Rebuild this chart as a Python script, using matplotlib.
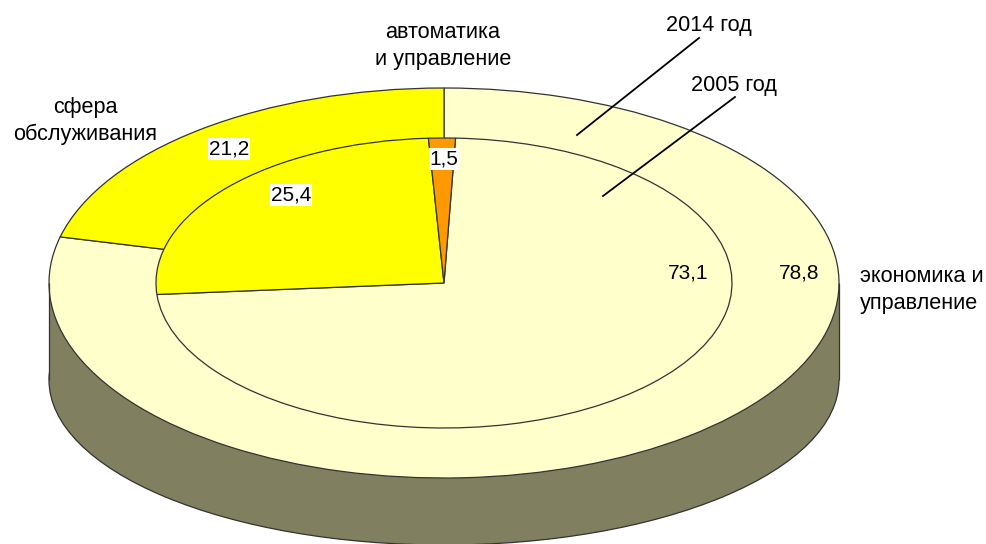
import matplotlib
matplotlib.use("Agg")
import matplotlib.pyplot as plt
from matplotlib.patches import Ellipse, Rectangle

plt.rcParams['font.family'] = ['Liberation Sans', 'DejaVu Sans']

# shares, %
fields = ["экономика и\nуправление", "сфера\nобслуживания", "автоматика\nи управление"]
values_2014 = [78.8, 21.2]
values_2005 = [73.1, 25.4, 1.5]
labels_2014 = ["78,8", "21,2"]
labels_2005 = ["73,1", "25,4", "1,5"]
year_labels = ["2014 год", "2005 год"]

W, H = 987, 544
CX, CY = 444, 283       # centre of the top face, px
RX, RY = 395, 195       # outer ellipse radii, px
IN_RX, IN_RY = 288, 145 # inner ellipse radii, px
BOTTOM_CY, BOTTOM_RY = 380, 165   # lower rim of the side

EDGE = "#333333"
wedge_style = {"edgecolor": EDGE, "linewidth": 0.9}


def squashed_axes(rx, ry):
    # one data unit is rx px across and ry px up, so a unit pie becomes an ellipse
    a = fig.add_axes([0, 0, 1, 1], facecolor="none")
    a.set_aspect("auto")
    return a, (-CX / rx, (W - CX) / rx), (-(H - CY) / ry, CY / ry)


def finish(a, xlim, ylim):
    a.set_aspect("auto")
    a.set_xlim(xlim)
    a.set_ylim(ylim)
    a.axis("off")


fig = plt.figure(figsize=(W / 100, H / 100), dpi=100)

ax, xlim, ylim = squashed_axes(RX, RY)

# side of the disc
side_y = -(BOTTOM_CY - CY) / RY
ax.add_patch(Ellipse((0, side_y), 2, 2 * BOTTOM_RY / RY, facecolor="#808060",
                     edgecolor=EDGE, linewidth=0.9))
ax.add_patch(Rectangle((-1, side_y), 2, -side_y, facecolor="#808060", edgecolor="none"))
ax.vlines([-1, 1], side_y, 0, color=EDGE, linewidth=0.9)

ax.pie(values_2014, colors=["#FFFFCC", "#FFFF00"], radius=1.0, startangle=90,
       counterclock=False, normalize=True, wedgeprops=wedge_style)
finish(ax, xlim, ylim)

inner, xlim, ylim = squashed_axes(IN_RX, IN_RY)
inner.pie(values_2005, colors=["#FFFFCC", "#FFFF00", "#FF9900"], radius=1.0,
          startangle=87.7, counterclock=False, normalize=True, wedgeprops=wedge_style)
finish(inner, xlim, ylim)

# overlay in pixels for labels and leader lines
top = fig.add_axes([0, 0, 1, 1], facecolor="none")
top.set_xlim(0, W)
top.set_ylim(H, 0)
top.axis("off")

FS_NUM = 15.0
FS_TXT = 15.6
num_style = {"fontsize": FS_NUM, "ha": "center", "va": "center", "color": "black"}
txt_style = {"fontsize": FS_TXT, "ha": "center", "va": "center", "color": "black",
             "linespacing": 1.32}
white_box = {"facecolor": "white", "edgecolor": "none", "pad": 0.8}

top.text(688, 273, labels_2005[0], **num_style)
top.text(799, 273, labels_2014[0], **num_style)
top.text(229, 149, labels_2014[1], bbox=white_box, **num_style)
top.text(291, 195, labels_2005[1], bbox=white_box, **num_style)
top.text(444, 159, labels_2005[2], bbox=white_box, **num_style)

top.text(443, 46, fields[2], **txt_style)
top.text(85, 121, fields[1], **txt_style)
top.text(860, 290, fields[0], fontsize=FS_TXT, linespacing=1.32, ha="left", va="center")

top.text(709, 25, year_labels[0], **txt_style)
top.text(734, 86, year_labels[1], **txt_style)
top.plot([577, 699], [135, 38], color="black", linewidth=1.3)
top.plot([603, 735], [196, 97], color="black", linewidth=1.3)

fig.savefig("out.png", dpi=100)
